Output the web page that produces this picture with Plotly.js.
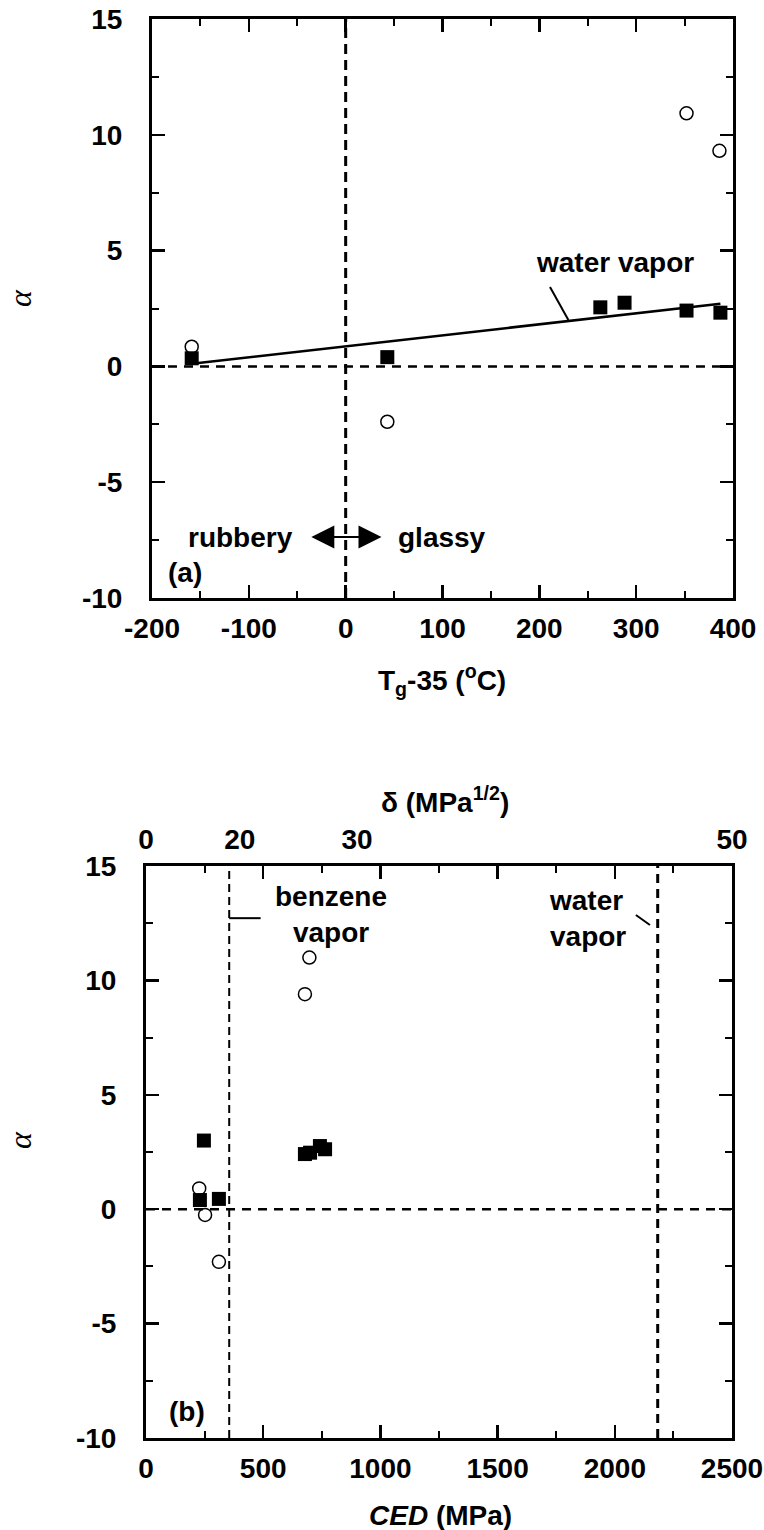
<!DOCTYPE html>
<html>
<head>
<meta charset="utf-8">
<script src="https://cdn.plot.ly/plotly-3.0.1.min.js"></script>
<style>html,body{margin:0;padding:0;background:#fff;}#chart{width:764px;height:1530px;}</style>
</head>
<body>
<div id="chart"></div>
<script>
// ---- Panel (a): alpha vs Tg-35 ----
const tgSquareX = [-159, 43, 263, 288, 352, 387];
const tgSquareY = [0.35, 0.4, 2.55, 2.75, 2.41, 2.32];
const tgCircleX = [-159, 43, 352, 386];
const tgCircleY = [0.85, -2.39, 10.93, 9.31];

// ---- Panel (b): alpha vs CED ----
const cedSquareX = [230, 247, 311, 678, 700, 742, 764];
const cedSquareY = [0.4, 3.0, 0.45, 2.41, 2.47, 2.76, 2.62];
const cedCircleX = [227, 252, 311, 678, 697];
const cedCircleY = [0.91, -0.25, -2.3, 9.4, 11.0];

// reference lines
const benzeneCED = 355;
const waterCED = 2183;

// tick labels
const tgTicks = [-200, -100, 0, 100, 200, 300, 400];
const alphaTicks = [-10, -5, 0, 5, 10, 15];
const cedTicks = [0, 500, 1000, 1500, 2000, 2500];
const deltaTicks = [0, 20, 30, 50];
const lbl = arr => arr.map(v => String(v)); // plain hyphen minus

// least-squares fit through the filled squares of panel (a)
function fit(xs, ys) {
  const n = xs.length;
  const mx = xs.reduce((a, b) => a + b, 0) / n;
  const my = ys.reduce((a, b) => a + b, 0) / n;
  let sxy = 0, sxx = 0;
  for (let i = 0; i < n; i++) { sxy += (xs[i] - mx) * (ys[i] - my); sxx += (xs[i] - mx) ** 2; }
  const b = sxy / sxx;
  return { a: my - b * mx, b: b };
}
const f = fit(tgSquareX, tgSquareY);
const fitX = [Math.min(...tgSquareX), Math.max(...tgSquareX)];
const fitY = fitX.map(x => f.a + f.b * x);

const FONT = 'Liberation Sans, Arial, sans-serif';
const tickFont = { family: FONT, size: 28, color: '#000', weight: 'bold' };
const alphaFont = { family: 'Liberation Serif, serif', size: 32, color: '#000' };

const sqMarker = { symbol: 'square', size: 14, color: '#000', line: { width: 0 } };
const ciMarker = { symbol: 'circle-open', size: 13, color: '#000', line: { width: 1.5, color: '#000' } };

const traces = [
  { x: fitX, y: fitY, mode: 'lines', line: { color: '#000', width: 2.5 }, xaxis: 'x', yaxis: 'y', hoverinfo: 'skip' },
  { x: tgSquareX, y: tgSquareY, mode: 'markers', marker: sqMarker, xaxis: 'x', yaxis: 'y' },
  { x: tgCircleX, y: tgCircleY, mode: 'markers', marker: ciMarker, xaxis: 'x', yaxis: 'y' },
  { x: cedSquareX, y: cedSquareY, mode: 'markers', marker: sqMarker, xaxis: 'x2', yaxis: 'y2' },
  { x: cedCircleX, y: cedCircleY, mode: 'markers', marker: ciMarker, xaxis: 'x2', yaxis: 'y2' },
  { x: [0, 2500], y: [null, null], mode: 'markers', xaxis: 'x3', yaxis: 'y2', hoverinfo: 'skip' }
];

const axBase = {
  showgrid: false, zeroline: false, showline: true, linewidth: 3, linecolor: '#000',
  mirror: 'ticks', ticks: 'inside', ticklen: 13, tickwidth: 2.5, tickcolor: '#000',
  tickfont: tickFont, tickmode: 'array'
};

const W = 764, H = 1530;
const px = v => v / W, py = v => 1 - v / H;

const layout = {
  width: W, height: H,
  margin: { l: 0, r: 0, t: 0, b: 0 },
  paper_bgcolor: '#fff', plot_bgcolor: '#fff',
  showlegend: false,
  xaxis: Object.assign({}, axBase, {
    domain: [px(152), px(733)], anchor: 'y', range: [-200, 400],
    tickvals: tgTicks, ticktext: lbl(tgTicks), ticklabelstandoff: 3,
    minor: { ticks: 'inside', ticklen: 7, tickwidth: 2, tick0: -200, dtick: 50, tickcolor: '#000' }
  }),
  yaxis: Object.assign({}, axBase, {
    domain: [py(598), py(19)], anchor: 'x', range: [-10, 15],
    tickvals: alphaTicks, ticktext: lbl(alphaTicks), ticklabelstandoff: 21,
    minor: { ticks: 'inside', ticklen: 7, tickwidth: 2, tick0: -10, dtick: 2.5, tickcolor: '#000' }
  }),
  xaxis2: Object.assign({}, axBase, {
    domain: [px(146), px(732)], anchor: 'y2', range: [0, 2500],
    tickvals: cedTicks, ticktext: lbl(cedTicks), ticklabelstandoff: 3,
    minor: { ticks: 'inside', ticklen: 7, tickwidth: 2, tick0: 0, dtick: 250, tickcolor: '#000' }
  }),
  yaxis2: Object.assign({}, axBase, {
    domain: [py(1438), py(866)], anchor: 'x2', range: [-10, 15],
    tickvals: alphaTicks, ticktext: lbl(alphaTicks), ticklabelstandoff: 21,
    minor: { ticks: 'inside', ticklen: 7, tickwidth: 2, tick0: -10, dtick: 2.5, tickcolor: '#000' }
  }),
  xaxis3: {
    overlaying: 'x2', anchor: 'y2', side: 'top', range: [0, 2500],
    showgrid: false, zeroline: false, showline: false, ticks: '',
    tickmode: 'array', tickvals: deltaTicks.map(d => d * d), ticktext: lbl(deltaTicks),
    tickfont: tickFont, ticklabelstandoff: 10
  },
  shapes: [
    { type: 'line', xref: 'x', yref: 'y domain', x0: 0, x1: 0, y0: 0, y1: 1, line: { color: '#000', width: 3, dash: '10px,6px' } },
    { type: 'line', xref: 'x domain', yref: 'y', x0: 0, x1: 1, y0: 0, y1: 0, line: { color: '#000', width: 2.5, dash: '9px,7px' } },
    { type: 'line', xref: 'x', yref: 'y', x0: 211, y0: 3.43, x1: 230, y1: 2.0, line: { color: '#000', width: 2 } },
    { type: 'line', xref: 'x2', yref: 'y2 domain', x0: benzeneCED, x1: benzeneCED, y0: 0, y1: 1, line: { color: '#000', width: 2, dash: '8px,5px' } },
    { type: 'line', xref: 'x2', yref: 'y2 domain', x0: waterCED, x1: waterCED, y0: 0, y1: 1, line: { color: '#000', width: 3, dash: '9px,6px' } },
    { type: 'line', xref: 'x2 domain', yref: 'y2', x0: 0, x1: 1, y0: 0, y1: 0, line: { color: '#000', width: 2.5, dash: '9px,7px' } },
    { type: 'line', xref: 'x2', yref: 'y2', x0: benzeneCED, y0: 12.72, x1: 489, y1: 12.72, line: { color: '#000', width: 2 } },
    { type: 'line', xref: 'x2', yref: 'y2', x0: 2090, y0: 12.86, x1: 2150, y1: 12.42, line: { color: '#000', width: 2 } }
  ],
  annotations: [
    // panel (a) texts
    { xref: 'x', yref: 'y', x: 278, y: 4.47, text: 'water vapor', showarrow: false, font: tickFont, xanchor: 'center', yanchor: 'middle' },
    { xref: 'x', yref: 'y', x: -108.6, y: -7.37, text: 'rubbery', showarrow: false, font: tickFont, xanchor: 'center', yanchor: 'middle' },
    { xref: 'x', yref: 'y', x: 99.6, y: -7.37, text: 'glassy', showarrow: false, font: tickFont, xanchor: 'center', yanchor: 'middle' },
    { xref: 'x', yref: 'y', x: -166.4, y: -8.92, text: '(a)', showarrow: false, font: tickFont, xanchor: 'center', yanchor: 'middle' },
    { xref: 'x', yref: 'y', axref: 'x', ayref: 'y', x: 37, y: -7.37, ax: -37, ay: -7.37, text: '',
      showarrow: true, arrowhead: 2, startarrowhead: 2, arrowside: 'end+start', arrowsize: 2.3, startarrowsize: 2.3, arrowwidth: 2, arrowcolor: '#000' },
    // panel (b) texts
    { xref: 'x2', yref: 'y2', x: 789, y: 12.9, text: 'benzene<br>vapor', showarrow: false, font: tickFont, align: 'center', xanchor: 'center', yanchor: 'middle' },
    { xref: 'x2', yref: 'y2', x: 1711, y: 12.71, xanchor: 'left', yanchor: 'middle', text: 'water<br>vapor', showarrow: false, font: tickFont, align: 'left' },
    { xref: 'x2', yref: 'y2', x: 175, y: -8.85, text: '(b)', showarrow: false, font: tickFont, xanchor: 'center', yanchor: 'middle' },
    // axis titles
    { xref: 'paper', yref: 'paper', x: px(442), y: py(680), xanchor: 'center', yanchor: 'middle', text: 'T<sub>g</sub>-35 (<sup>o</sup>C)', showarrow: false, font: tickFont },
    { xref: 'paper', yref: 'paper', x: px(20), y: py(298), xanchor: 'center', yanchor: 'middle', text: '<i>α</i>', textangle: -90, showarrow: false, font: alphaFont },
    { xref: 'paper', yref: 'paper', x: px(445), y: py(800), xanchor: 'center', yanchor: 'middle', text: 'δ (MPa<sup>1/2</sup>)', showarrow: false, font: tickFont },
    { xref: 'paper', yref: 'paper', x: px(20), y: py(1140), xanchor: 'center', yanchor: 'middle', text: '<i>α</i>', textangle: -90, showarrow: false, font: alphaFont },
    { xref: 'paper', yref: 'paper', x: px(440), y: py(1515), xanchor: 'center', yanchor: 'middle', text: '<i>CED</i> (MPa)', showarrow: false, font: tickFont }
  ]
};

Plotly.newPlot('chart', traces, layout, { staticPlot: true, displayModeBar: false });
</script>
</body>
</html>
